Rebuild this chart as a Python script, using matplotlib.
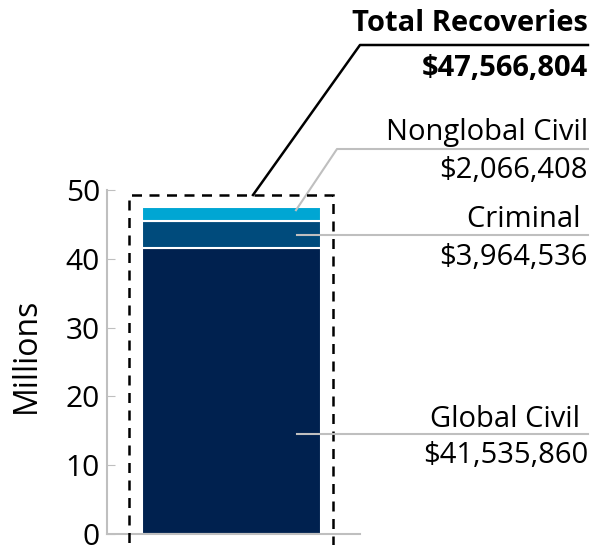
import matplotlib.pyplot as plt
from matplotlib.patches import Rectangle

plt.rcParams['font.family'] = ['Open Sans', 'DejaVu Sans']

# recoveries in millions, bottom to top
segments = ["Global Civil", "Criminal", "Nonglobal Civil"]
values = [41.535860, 3.964536, 2.066408]
value_labels = ["$41,535,860", "$3,964,536", "$2,066,408"]
colors = ["#00214F", "#004B7C", "#00A6D3"]
total_label = "$47,566,804"
yticks = [0, 10, 20, 30, 40, 50]

W, H = 591, 545
fig = plt.figure(figsize=(W / 100, H / 100), dpi=100)
ax = fig.add_axes([107 / W, 11 / H, 253 / W, 344 / H])

# pixel helpers (layout only)
def px(x):
    return (x - 231.5) / 179.0

def py(y):
    return (534 - y) / 6.88

bottom = 0
tops = []
for v, c in zip(values, colors):
    ax.bar(0, v, width=1.0, bottom=bottom, color=c, edgecolor="white", linewidth=1.5, zorder=2)
    bottom += v
    tops.append(bottom)

ax.set_xlim(-0.6955, 0.718)
ax.set_ylim(0, 50)
ax.set_yticks(yticks)
ax.set_xticks([])
ax.tick_params(axis="y", direction="in", length=6, color="#BFBFBF", labelsize=21.5, pad=5)
for s in ["top", "right"]:
    ax.spines[s].set_visible(False)
for s in ["left", "bottom"]:
    ax.spines[s].set_color("#BFBFBF")
    ax.spines[s].set_linewidth(1.5)
ax.set_ylabel("Millions", fontsize=23)
ax.yaxis.set_label_coords(-0.255, 0.52)

# dashed frame around the stack
ax.add_patch(Rectangle((px(129), -5), px(333) - px(129), py(195) + 5, fill=False,
                       edgecolor="black", linestyle=(0, (4, 3)), linewidth=1.8,
                       clip_on=False, zorder=3))

xr = px(588)
grey = "#BFBFBF"
fs = 21

# total
ax.plot([px(253), px(360), xr], [py(195), py(45), py(45)], color="black", lw=1.8, clip_on=False)
ax.text(xr, py(31), "Total Recoveries", ha="right", va="baseline", fontsize=21, fontweight="bold")
ax.text(xr, py(76), total_label, ha="right", va="baseline", fontsize=21, fontweight="bold")

# nonglobal civil
ax.plot([px(296), px(337), xr], [tops[2] - 0.5, py(149), py(149)], color=grey, lw=1.5, clip_on=False)
ax.text(xr, py(140), segments[2], ha="right", va="baseline", fontsize=fs)
ax.text(xr, py(178), value_labels[2], ha="right", va="baseline", fontsize=fs)

# criminal
yc = (tops[0] + tops[1]) / 2
ax.plot([px(297), xr], [yc, yc], color=grey, lw=1.5, clip_on=False, zorder=4)
ax.text(xr, py(227), segments[1] + " ", ha="right", va="baseline", fontsize=fs)
ax.text(xr, py(265), value_labels[1], ha="right", va="baseline", fontsize=fs)

# global civil
yg = 14.5
ax.plot([px(297), xr], [yg, yg], color=grey, lw=1.5, clip_on=False, zorder=4)
ax.text(xr, py(427), segments[0] + " ", ha="right", va="baseline", fontsize=fs)
ax.text(xr, py(463), value_labels[0], ha="right", va="baseline", fontsize=fs)

fig.savefig("out.png", dpi=100)
